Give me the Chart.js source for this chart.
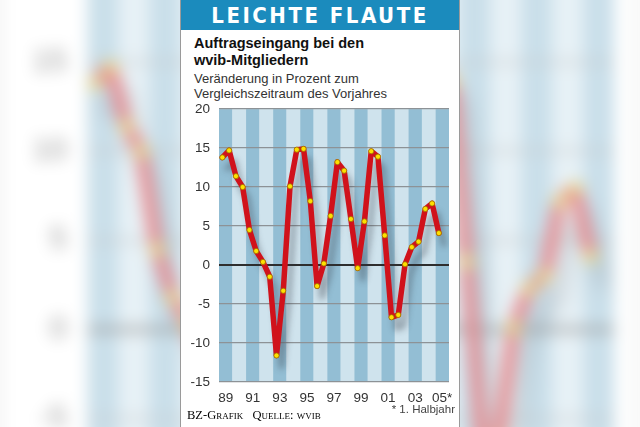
<!DOCTYPE html>
<html><head><meta charset="utf-8">
<script src="https://cdn.jsdelivr.net/npm/chart.js@4.4.1/dist/chart.umd.min.js"></script>
<style>
html,body{margin:0;padding:0;}
body{width:640px;height:427px;overflow:hidden;position:relative;background:#fff;font-family:"Liberation Sans",Arial,sans-serif;}
#bgwrap{position:absolute;left:0;top:0;width:640px;height:427px;filter:blur(8px);}
#bgscale{position:absolute;left:0;top:0;width:640px;height:427px;transform-origin:321px 215px;transform:scale(2.29);}
#wash{position:absolute;left:0;top:0;width:640px;height:427px;background:rgba(255,255,255,0.5);}
.panel{position:absolute;left:180px;top:0;width:278px;height:427px;background:#fff;border-left:1px solid #9a9a9a;border-right:1px solid #9a9a9a;}
.chartbox{position:absolute;left:0;top:92px;width:278px;height:318px;}
#header{position:absolute;left:0;top:0;width:278px;height:30px;background:#1b8bbd;color:#fff;font-family:"DejaVu Sans Condensed","DejaVu Sans",sans-serif;font-stretch:condensed;font-weight:bold;font-size:22px;letter-spacing:2.5px;text-align:center;line-height:31px;white-space:nowrap;}
.t{position:absolute;left:13px;white-space:nowrap;color:#111;}
.title{font-weight:bold;font-size:14.5px;line-height:17px;}
.sub{font-size:13px;line-height:15px;color:#333;}
#foot{position:absolute;left:6px;top:408px;font-family:"Liberation Serif","DejaVu Serif",serif;font-variant:small-caps;font-size:12.5px;line-height:14px;color:#000;white-space:nowrap;}
#note{position:absolute;right:4px;top:402px;font-size:11.5px;line-height:14px;color:#444;white-space:nowrap;}
</style>
</head><body>
<div id="bgwrap"><div id="bgscale"><div class="panel"><div class="chartbox"><canvas id="bgc" width="278" height="318"></canvas></div></div></div></div>
<div id="wash"></div>
<div class="panel" id="main">
  <div id="header">LEICHTE FLAUTE</div>
  <div class="t title" style="top:35px">Auftragseingang bei den</div>
  <div class="t title" style="top:52px">wvib-Mitgliedern</div>
  <div class="t sub" style="top:71px">Veränderung in Prozent zum</div>
  <div class="t sub" style="top:86px">Vergleichszeitraum des Vorjahres</div>
  <div class="chartbox"><canvas id="c" width="278" height="318"></canvas></div>
  <div id="foot">BZ-Grafik&nbsp;&nbsp; Quelle: wvib</div>
  <div id="note">* 1. Halbjahr</div>
</div>
<script>
// Years (one stripe each) and half-year periods
const years = [1989,1990,1991,1992,1993,1994,1995,1996,1997,1998,1999,2000,2001,2002,2003,2004,2005];
const periods = ['1989 H1','1989 H2','1990 H1','1990 H2','1991 H1','1991 H2','1992 H1','1992 H2','1993 H1','1993 H2',
  '1994 H1','1994 H2','1995 H1','1995 H2','1996 H1','1996 H2','1997 H1','1997 H2','1998 H1','1998 H2',
  '1999 H1','1999 H2','2000 H1','2000 H2','2001 H1','2001 H2','2002 H1','2002 H2','2003 H1','2003 H2',
  '2004 H1','2004 H2','2005 H1'];
const orderChange = [13.8,14.7,11.4,10.0,4.5,1.8,0.4,-1.5,-11.6,-3.3,
  10.1,14.8,14.9,8.2,-2.7,0.2,6.3,13.2,12.1,5.9,
  -0.4,5.6,14.6,13.9,3.8,-6.7,-6.4,0.1,2.3,3.0,
  7.2,7.9,4.1];
const xTickYears = [1989,1991,1993,1995,1997,1999,2001,2003,2005];
const xTickLabels = ['89','91','93','95','97','99','01','03','05*'];
const yTicks = [-15,-10,-5,0,5,10,15,20];

const DARK='#93bed4', LIGHT='#cfe3ed';
function periodX(p){ const [y,h]=p.split(' H'); return (+y) + (h==='1'?0.25:0.75); }
const points = periods.map((p,i)=>({x:periodX(p), y:orderChange[i]}));

const stripePlugin = {
  id:'stripes',
  beforeDraw(chart){
    const {ctx, chartArea:a, scales:{x}} = chart;
    ctx.save();
    years.forEach((yr,i)=>{
      const x0=x.getPixelForValue(yr), x1=x.getPixelForValue(yr+1);
      ctx.fillStyle = i%2===0?DARK:LIGHT;
      ctx.fillRect(x0,a.top,x1-x0,a.bottom-a.top);
    });
    ctx.restore();
  }
};
const shadowPlugin = {
  id:'shadow',
  beforeDatasetDraw(chart,args){
    if(args.index!==0) return;
    const c=chart.ctx, r=chart.currentDevicePixelRatio||1;
    c.save();
    c.shadowColor='rgba(50,55,65,0.38)';
    c.shadowBlur=6*r; c.shadowOffsetX=5*r; c.shadowOffsetY=11*r;
  },
  afterDatasetDraw(chart,args){ if(args.index===0) chart.ctx.restore(); }
};

function makeChart(id, dpr){
  return new Chart(document.getElementById(id), {
    type:'line',
    data:{datasets:[
      {data:points, order:1, borderColor:'#d0121b', borderWidth:5.5, pointRadius:0, tension:0,
       borderJoinStyle:'round', borderCapStyle:'round'},
      {data:points, order:0, showLine:false, pointRadius:2.6, pointBackgroundColor:'#ffe000',
       pointBorderColor:'#9a6a00', pointBorderWidth:0.8}
    ]},
    options:{
      responsive:false, animation:false, devicePixelRatio:dpr,
      layout:{padding:{top:0,right:10,left:0,bottom:0}},
      plugins:{legend:{display:false}, tooltip:{enabled:false}},
      scales:{
        x:{type:'linear', min:1989, max:2006,
           grid:{display:false}, border:{display:false},
           afterBuildTicks(s){ s.ticks = xTickYears.map(v=>({value:v+0.5})); },
           afterFit(s){ s.height=28; },
           ticks:{autoSkip:false, maxRotation:0, padding:0, color:'#333',
             font:{family:'"Liberation Sans", Arial, sans-serif', size:13.5},
             callback:(v,i)=>xTickLabels[i]}},
        y:{min:-15, max:20,
           afterBuildTicks(s){ s.ticks = yTicks.map(v=>({value:v})); },
           afterFit(s){ s.width=38; },
           border:{display:false},
           grid:{drawTicks:false,
             color:c=>c.tick && c.tick.value===0?'#2e2e2e':'#8d9296',
             lineWidth:c=>c.tick && c.tick.value===0?2:1.3},
           ticks:{padding:9, color:'#333',
             font:{family:'"Liberation Sans", Arial, sans-serif', size:13.5}}}
      }
    },
    plugins:[stripePlugin, shadowPlugin]
  });
}
makeChart('bgc', 2.5);
makeChart('c', 1);
</script>
</body></html>
